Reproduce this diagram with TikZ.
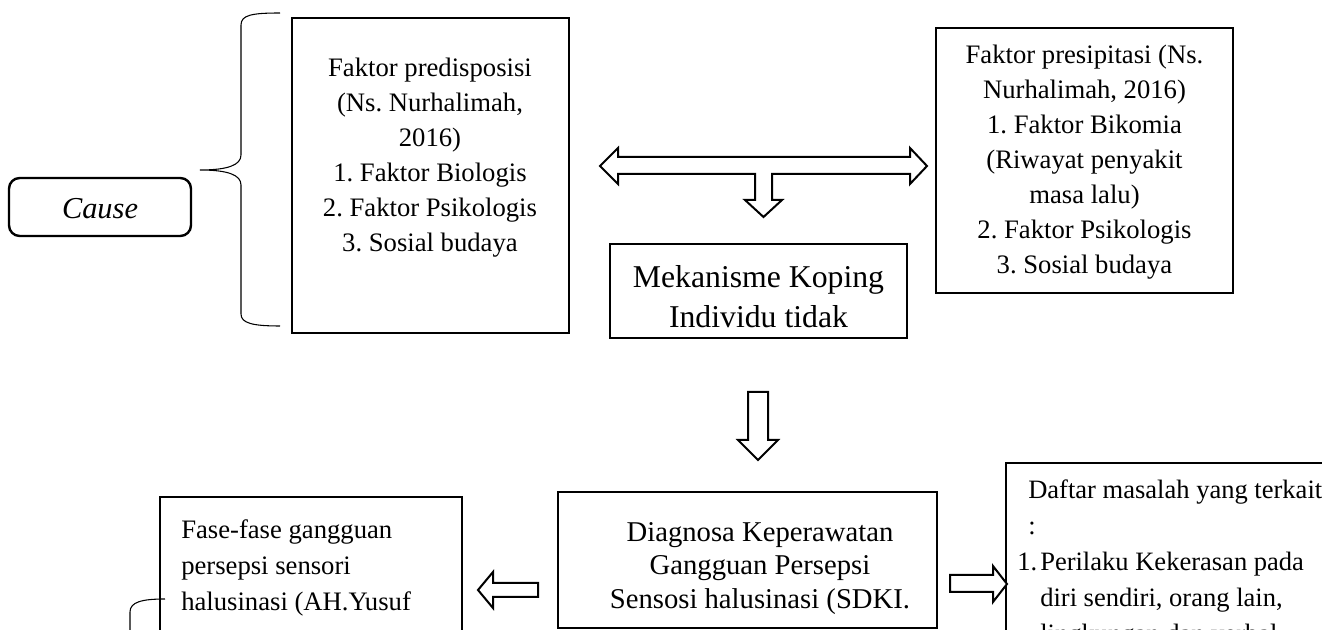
\documentclass[tikz,border=0pt]{standalone}
\usepackage{fontspec}
\setmainfont{Liberation Serif}
\frenchspacing
\tikzset{
  boxst/.style={draw, line width=1.8pt, inner sep=0pt},
  txt/.style={inner sep=0pt, align=center},
  blockarrow/.style={draw, line width=1.5pt, fill=white, line join=miter},
  thinline/.style={draw, line width=0.8pt},
}
\begin{document}
\begin{tikzpicture}[x=0.75pt,y=-0.75pt]
\useasboundingbox (0,0) rectangle (1322,630);
\clip (0,0) rectangle (1322,630);
% boxes
\node[boxst, rounded corners=8pt, minimum width=136.5pt, minimum height=43.5pt] (cause) at (100,207) {};
\node[boxst, minimum width=207.75pt, minimum height=236.25pt] (pred) at (430.5,175.5) {};
\node[boxst, minimum width=222.75pt, minimum height=198.75pt] (pres) at (1084.5,160.5) {};
\node[boxst, minimum width=222.75pt, minimum height=70.5pt] (mek) at (758.5,291) {};
\node[boxst, minimum width=284.25pt, minimum height=102pt] (diag) at (747.5,560) {};
\node[boxst, minimum width=226.5pt, minimum height=167.25pt] (fase) at (311,608.5) {};
\node[boxst, minimum width=295.5pt, minimum height=192.75pt] (daftar) at (1203,591.5) {};
% texts
\node[txt, font={\fontsize{22.8}{27}\selectfont\itshape}] (causetext) at (100,209) {Cause};
\node[txt, font={\fontsize{20}{26.25}\selectfont}] (predtext) at (430,157.5)
  {Faktor predisposisi\\(Ns. Nurhalimah,\\2016)\\1. Faktor Biologis\\2. Faktor Psikologis\\3. Sosial budaya};
\node[txt, font={\fontsize{20}{26.25}\selectfont}] (prestext) at (1084.5,162)
  {Faktor presipitasi (Ns.\\Nurhalimah, 2016)\\1. Faktor Bikomia\\(Riwayat penyakit\\masa lalu)\\2. Faktor Psikologis\\3. Sosial budaya};
\node[txt, font={\fontsize{23.8}{30}\selectfont}] (mektext) at (758.5,297)
  {Mekanisme Koping\\Individu tidak};
\node[txt, font={\fontsize{21.5}{25}\selectfont}] (diagtext) at (760,568.5)
  {Diagnosa Keperawatan\\Gangguan Persepsi\\Sensosi halusinasi (SDKI.};
\node[txt, align=left, anchor=west, font={\fontsize{20}{27}\selectfont}] (fasetext) at (181,568)
  {Fase-fase gangguan\\persepsi sensori\\halusinasi (AH.Yusuf};
\node[txt, align=left, anchor=west, font={\fontsize{19.9}{27}\selectfont}] (daftartext) at (1017,564)
  {\hspace*{8.25pt}Daftar masalah yang terkait\\\hspace*{8.25pt}:\\\makebox[17.25pt][l]{1.}Perilaku Kekerasan pada\\\hspace*{17.25pt}diri sendiri, orang lain,\\\hspace*{17.25pt}lingkungan dan verbal};
% brace at left of predisposisi box
\path[thinline] (280,13) .. controls (252,13) and (241,15) .. (241,25) -- (241,155)
  .. controls (241,165) and (228,170) .. (200,170)
  .. controls (228,170) and (241,175) .. (241,185) -- (241,314)
  .. controls (241,323) and (252,326) .. (280,326);
% small bracket at fase box
\path[thinline] (165,599) .. controls (142,599) and (130,602) .. (130,612) -- (130,640);
% T-shaped double arrow
\path[blockarrow] (600,166) -- (618,148) -- (618,157) -- (910,157) -- (910,148) -- (927,166)
  -- (910,184) -- (910,174) -- (772,174) -- (772,200) -- (782,200) -- (763.5,217)
  -- (745,200) -- (755,200) -- (755,174) -- (618,174) -- (618,184) -- cycle;
% down arrow mek -> diag
\path[blockarrow] (748,392) -- (768,392) -- (768,440) -- (778,440) -- (758,460)
  -- (738,440) -- (748,440) -- cycle;
% left arrow diag -> fase
\path[blockarrow] (538,583) -- (538,597) -- (493,597) -- (493,608) -- (478,590)
  -- (493,572) -- (493,583) -- cycle;
% right arrow diag -> daftar
\path[blockarrow] (950,575) -- (950,592) -- (993,592) -- (993,602) -- (1007,584)
  -- (993,566) -- (993,575) -- cycle;
\end{tikzpicture}
\end{document}
